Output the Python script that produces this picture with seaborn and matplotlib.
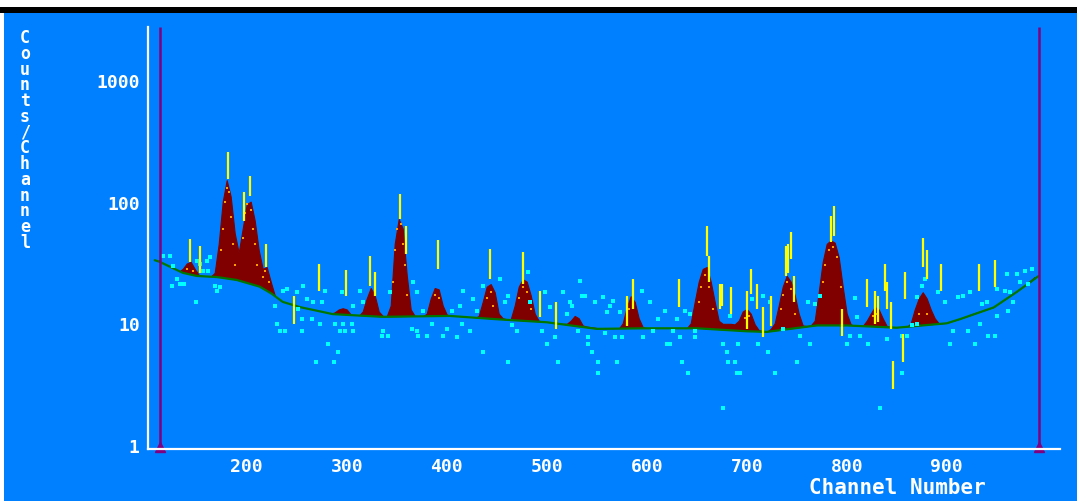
import numpy as np
import pandas as pd
import matplotlib
matplotlib.use("Agg")
import matplotlib.pyplot as plt
import seaborn as sns
from matplotlib.patches import Rectangle
from matplotlib.ticker import NullLocator

# ---------------- data ----------------
# histogram of counts per channel, sampled every 4 channels (112 .. 988)
chan_start, chan_step = 112, 4
counts = [
    33, 31, 30, 29, 27, 26.5, 28, 31, 32, 28,
    25, 24.5, 24.3, 24.2, 26, 45, 100, 150, 110, 55,
    38, 60, 95, 100, 70, 40, 28, 29, 22, 17,
    15, 14.4, 14.2, 14.0, 13.8, 13.6, 13.4, 13.2, 13.0, 12.8,
    12.6, 12.4, 12.2, 12.0, 12.3, 13.0, 13.3, 13.0, 11.8, 11.6,
    11.5, 12.5, 16, 19.5, 17, 12.5, 11.5, 11.4, 14, 45,
    72, 60, 25, 13, 11.5, 11.4, 11.4, 12, 16, 19.5,
    19, 14, 11.8, 11.5, 11.4, 11.3, 11.2, 11.1, 11.0, 11.0,
    11.5, 15, 20, 21, 18, 12, 11, 10.8, 10.8, 14,
    20, 23, 22, 17, 12, 10.5, 10.3, 10.2, 10.1, 10.0,
    10.0, 9.9, 9.9, 10.5, 11.5, 11, 9.6, 9.4, 9.3, 9.2,
    9.1, 9.0, 9.0, 9.0, 9.0, 9.0, 10, 13.5, 16.7, 15,
    11, 9.3, 9.1, 9.1, 9.1, 9.1, 9.1, 9.1, 9.1, 9.1,
    9.1, 9.1, 9.1, 10, 15, 22, 28, 29, 22, 15,
    10.5, 9.9, 9.9, 9.9, 9.8, 10.5, 12.5, 13.1, 12, 9.8,
    8.8, 8.6, 8.5, 9, 10, 14, 20, 24.6, 22, 17,
    12, 9.6, 9.5, 9.6, 10.5, 18, 32, 45, 48, 46,
    35, 20, 12, 9.8, 9.5, 9.5, 9.5, 10.5, 12, 13.6,
    13, 11, 9.5, 9.3, 9.3, 9.3, 9.3, 9.3, 10, 13,
    16, 18, 16, 13, 11, 10, 9.9, 10, 10.2, 10.5,
    10.8, 11.1, 11.4, 11.8, 12.1, 12.4, 12.7, 13, 13.3, 13.6,
    14.3, 15, 15.8, 16.6, 17.5, 18.5, 19.7, 21, 22.5, 24,
]
channels = [chan_start + chan_step * i for i in range(len(counts))]

# fitted background (green line)
base_ch = [108, 113, 136, 150, 170, 190, 213, 225, 236, 253, 270, 286, 336, 403,
           450, 500, 550, 600, 650, 700, 720, 770, 800, 850, 900, 913, 947, 970, 992]
base_val = [33, 32, 26, 24.5, 24, 22.7, 20, 17.5, 15, 13.6, 12.7, 11.9, 11.3, 11.5,
            10.8, 10.2, 9.0, 9.1, 9.1, 8.6, 8.5, 9.6, 9.6, 9.2, 10, 10.8, 13.5, 18.1, 24.5]

# scattered data points (cyan)
pts_ch = [116, 123, 126, 125, 130, 133, 137, 150, 153, 156, 161, 160, 163, 149, 168, 170, 173,
          228, 230, 233, 238, 236, 240, 250, 251, 256, 255, 255, 260, 266, 265, 275, 273, 278,
          281, 269, 287, 291, 288, 293, 298, 296, 295, 305, 306, 306, 313, 316, 336, 335, 341,
          343, 366, 370, 365, 370, 371, 376, 380, 385, 396, 400,
          416, 405, 413, 415, 423, 410, 426, 430, 436, 436, 453, 458, 461, 465, 470, 461, 481,
          483, 495, 498, 500, 503, 508, 511, 516, 520, 525, 523, 533, 535, 531, 538, 541, 541,
          545, 551, 548, 551, 556, 558, 560, 563, 566, 568, 570, 573, 575, 595, 596, 603, 606,
          611, 618, 620, 623, 626, 630, 633, 635, 638, 641, 643, 648, 648, 676, 680, 681, 688,
          690, 693, 691, 683, 676,
          705, 711, 716, 721, 723, 728, 736, 750, 753, 763, 761, 768, 773, 800, 803, 808, 810,
          813, 821, 833, 840, 855, 855, 860, 865, 870, 870, 875, 878, 891, 898, 903, 906, 911,
          916, 923, 921, 928, 933, 935, 940, 941, 948, 950, 950, 958, 960, 961, 963, 966, 970,
          973, 978, 981, 985]
pts_val = [35.6, 35.6, 29.5, 20.2, 23, 21, 21, 32.5, 30.7, 27, 27, 32.5, 35, 15, 20.2, 18.4, 19.8,
           13.9, 9.9, 8.6, 8.6, 18.4, 19.1, 18, 13.1, 20.2, 10.8, 8.6, 15.8, 15, 10.8, 15, 9.9, 18.4,
           6.8, 4.8, 4.8, 5.8, 9.9, 8.6, 8.6, 9.9, 18, 9.9, 8.6, 13.9, 18.4, 15, 8.6, 7.9, 7.9,
           18, 21.8, 18, 9, 8.6, 7.9, 12.6, 7.9, 9.9, 7.9, 9,
           18.4, 12.6, 13.9, 9.9, 8.6, 7.7, 15.8, 12.6, 5.8, 20.2, 23, 15, 16.8, 9.6, 8.6, 4.8, 26.3,
           15, 8.6, 18, 6.8, 13.6, 7.7, 4.8, 18, 11.9, 13.9, 15, 22.3, 16.8, 8.6, 16.8, 7.7, 6.8,
           5.8, 3.9, 15, 4.8, 16.5, 8.4, 12.3, 13.9, 15.3, 7.7, 4.8, 12.3, 7.7, 18.4, 7.7, 15, 8.6,
           10.8, 12.6, 6.8, 6.8, 8.6, 10.8, 7.7, 4.8, 12.6, 3.9, 11.9, 7.7, 8.6, 6.8, 5.8, 4.8, 4.8,
           3.9, 3.9, 6.8, 11.5, 2.0,
           15.8, 6.8, 16.8, 5.8, 15, 3.9, 9, 4.8, 7.9, 6.8, 15, 14.4, 16.8, 6.8, 7.9, 16.2, 11.2,
           7.9, 6.8, 2.0, 7.4, 7.9, 3.9, 7.9, 9.6, 9.9, 16.5, 20.2, 23, 18, 15, 6.8, 8.6, 16.5,
           16.8, 18, 8.6, 6.8, 9.9, 14.4, 15, 7.9, 7.9, 11.5, 19.1, 18.4, 25.4, 12.6, 18, 15, 25.4,
           21.8, 27, 21, 27.9]

# data points inside peaks (orange)
pk_ch = [176, 178, 180, 182, 184, 174, 186, 188, 198, 200, 204, 206, 208, 196, 210, 218, 222, 216,
         140, 146, 348, 350, 354, 356, 358, 346, 360, 388, 392, 440, 444, 446, 472, 476, 480, 484,
         582, 586, 654, 658, 662, 666, 652, 698, 702, 736, 740, 744, 734, 748, 778, 782, 786, 790,
         794, 776, 826, 830, 872, 880]
pk_val = [60, 100, 130, 120, 75, 40, 45, 30, 80, 95, 85, 60, 45, 50, 30, 27, 22, 24,
          28, 27, 40, 60, 65, 45, 30, 22, 17, 17, 16, 16, 18, 14, 16, 20, 18, 13,
          13, 14, 20, 25, 20, 13, 15, 11, 11.5, 17, 22, 19, 13, 12, 30, 40, 42, 35,
          20, 22, 11.5, 12, 12, 12]

# error bars (yellow): channel, low, high
err_ch = [143, 153, 181, 197, 203, 219, 247, 272, 299, 323, 328, 353, 359, 391, 443, 476, 493,
          509, 580, 586, 632, 660, 662, 673, 675, 684, 700, 704, 710, 716, 724, 739, 741, 744,
          747, 784, 787, 795, 820, 828, 831, 838, 840, 844, 846, 856, 858, 876, 880, 894, 932, 948]
err_lo = [32, 26, 153, 69, 111, 29, 9.9, 18.4, 16.8, 20.2, 16.8, 72, 37, 28, 23, 21, 11.3,
          9, 9.5, 13.1, 13.6, 35.8, 21.8, 13.1, 14, 11.9, 9.0, 17.4, 13.1, 7.7, 9.5, 24.5, 26, 33.8,
          15, 46.5, 52, 7.9, 13.6, 9.9, 10.2, 18.4, 13.1, 9, 2.9, 4.8, 15.8, 29, 23, 18.4, 18.4, 19.8]
err_hi = [49, 43, 255, 120, 163, 45, 16.8, 30.6, 27.4, 35.8, 26.3, 115, 63, 48.5, 40.8, 38.5, 18.4,
          14.9, 16.8, 23, 23, 63, 35.8, 21, 21, 19.8, 18.4, 28, 21, 13.6, 16.8, 43, 45, 56,
          24.5, 76, 92, 13.1, 23, 18.4, 16.8, 30.6, 21.8, 14.9, 4.9, 8.2, 26.3, 50.2, 40, 30.6, 30.6, 33]

# region-of-interest markers (purple)
roi_ch = [113, 992]

y_ticks = [1, 10, 100, 1000]
y_tick_labels = ["1", "10", "100", "1000"]
x_ticks = [200, 300, 400, 500, 600, 700, 800, 900]
x_tick_labels = [str(v) for v in x_ticks]

# ---------------- style ----------------
BG = "#0080ff"
DARKRED = "#800000"
GREEN = "#007800"
CYAN = "#00ffff"
YELLOW = "#ffff00"
ORANGE = "#ffa000"
PURPLE = "#800080"

sns.set_style("white")
plt.rcParams["font.family"] = ["DejaVu Sans Mono", "DejaVu Sans"]

W, H = 1077, 502
fig = plt.figure(figsize=(W / 100, H / 100), dpi=100, facecolor="white")
fig.patches.append(Rectangle((4 / W, 0), 1, 1 - 14 / H, transform=fig.transFigure,
                             facecolor=BG, edgecolor="none", zorder=-10))
fig.patches.append(Rectangle((0, 1 - 14 / H), 1, 6 / H, transform=fig.transFigure,
                             facecolor="black", edgecolor="none", zorder=-10))

ax = fig.add_axes([148 / W, 1 - 450 / H, (1060 - 148) / W, (450 - 28) / H])
ax.set_facecolor(BG)
ax.set_yscale("log")
XMIN, XMAX = 101.3, 1013.3
YMIN, YMAX = 0.927, 2722
ax.set_xlim(XMIN, XMAX)
ax.set_ylim(YMIN, YMAX)

# peaks (dark red), then hide everything under the background curve
ax.fill_between(channels, YMIN, counts, color=DARKRED, lw=0.8, edgecolor=DARKRED, zorder=1)
ax.fill_between(base_ch, YMIN, base_val, color=BG, lw=0, zorder=2)

df_base = pd.DataFrame({"ch": base_ch, "v": base_val})
sns.lineplot(data=df_base, x="ch", y="v", ax=ax, color=GREEN, lw=1.6, sort=False,
             estimator=None, legend=False, zorder=3)

df_pts = pd.DataFrame({"ch": pts_ch, "v": pts_val})
sns.scatterplot(data=df_pts, x="ch", y="v", ax=ax, color=CYAN, marker="s", s=5,
                linewidth=0, legend=False, zorder=4)
df_pk = pd.DataFrame({"ch": pk_ch, "v": pk_val})
sns.scatterplot(data=df_pk, x="ch", y="v", ax=ax, color=ORANGE, marker="s", s=4,
                linewidth=0, legend=False, zorder=4)

ax.vlines(err_ch, err_lo, err_hi, color=YELLOW, lw=1.6, zorder=5)

ax.vlines(roi_ch, YMIN, YMAX, color=PURPLE, lw=1.8, zorder=6)
ax.plot(roi_ch, [YMIN * 1.03] * len(roi_ch), ls="none", marker="^", ms=7, color=PURPLE,
        clip_on=False, zorder=6)

# axes styling
for s in ["top", "right"]:
    ax.spines[s].set_visible(False)
for s in ["left", "bottom"]:
    ax.spines[s].set_color("white")
    ax.spines[s].set_linewidth(1.6)
    ax.spines[s].set_zorder(7)

ax.set_yticks(y_ticks)
ax.set_yticklabels(y_tick_labels)
ax.yaxis.set_minor_locator(NullLocator())
ax.set_xticks(x_ticks)
ax.set_xticklabels(x_tick_labels)
ax.tick_params(axis="y", direction="out", length=5, width=1.5, color="white",
               labelcolor="white", labelsize=13, pad=1)
ax.tick_params(axis="x", direction="in", length=6, width=1.5, color="white",
               labelcolor="white", labelsize=13, pad=6)
for lab in ax.get_xticklabels() + ax.get_yticklabels():
    lab.set_fontweight("bold")
ax.set_xlabel("")
ax.set_ylabel("")

fig.text(25 / W, 1 - 29 / H, "\n".join("Counts/Channel"), ha="center", va="top",
         color="white", fontsize=12, fontweight="bold", linespacing=0.84)
fig.text(897 / W, 1 - 488 / H, "Channel Number", ha="center", va="center",
         color="white", fontsize=15, fontweight="bold")

fig.savefig("out.png", dpi=100, facecolor=fig.get_facecolor())
